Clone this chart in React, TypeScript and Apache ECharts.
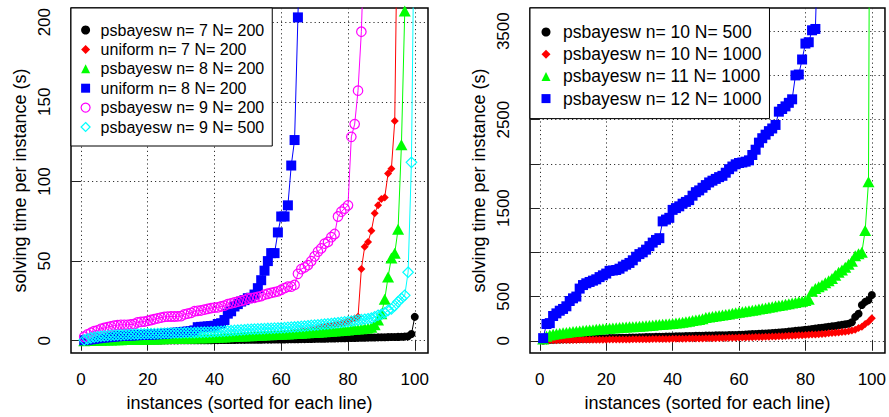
import React, { useEffect, useRef } from 'react';
import * as echarts from 'echarts';

// instance index (sorted for each line)
const instances: number[] = Array.from({ length: 100 }, (_, i) => i + 1);

// ---------- left panel ----------
const leftNames = [
  'psbayesw n= 7 N= 200',
  'uniform n= 7 N= 200',
  'psbayesw n= 8 N= 200',
  'uniform n= 8 N= 200',
  'psbayesw n= 9 N= 200',
  'psbayesw n= 9 N= 500',
];

const psb7_200 = [
  0.02, 0.03, 0.04, 0.05, 0.05, 0.06, 0.07, 0.08, 0.08, 0.09,
  0.1, 0.1, 0.11, 0.12, 0.12, 0.13, 0.14, 0.15, 0.15, 0.16,
  0.17, 0.18, 0.19, 0.2, 0.21, 0.22, 0.23, 0.24, 0.25, 0.26,
  0.27, 0.28, 0.29, 0.3, 0.31, 0.32, 0.33, 0.34, 0.36, 0.38,
  0.4, 0.42, 0.44, 0.46, 0.48, 0.5, 0.52, 0.54, 0.56, 0.58,
  0.6, 0.62, 0.64, 0.66, 0.68, 0.7, 0.72, 0.75, 0.78, 0.8,
  0.83, 0.86, 0.9, 0.93, 0.96, 1.0, 1.03, 1.06, 1.1, 1.15,
  1.2, 1.25, 1.3, 1.35, 1.4, 1.45, 1.5, 1.55, 1.6, 1.65,
  1.7, 1.75, 1.8, 1.85, 1.9, 1.95, 2.0, 2.05, 2.1, 2.15,
  2.2, 2.25, 2.3, 2.35, 2.4, 2.5, 2.6, 2.8, 4.2, 15,
];
const uni7_200 = [
  0.05, 0.1, 0.15, 0.2, 0.25, 0.3, 0.3, 0.35, 0.4, 0.4,
  0.45, 0.5, 0.5, 0.55, 0.6, 0.6, 0.65, 0.7, 0.7, 0.75,
  0.8, 0.85, 0.9, 0.95, 1.0, 1.05, 1.1, 1.15, 1.2, 1.25,
  1.3, 1.35, 1.4, 1.5, 1.6, 1.7, 1.8, 1.9, 2.0, 2.1,
  2.2, 2.3, 2.4, 2.5, 2.6, 2.7, 2.8, 2.9, 3.0, 3.1,
  3.2, 3.3, 3.4, 3.5, 3.6, 3.7, 3.8, 4.0, 4.2, 4.4,
  4.6, 4.8, 5.0, 5.3, 5.6, 5.9, 6.2, 6.5, 6.8, 7.1,
  7.5, 8.0, 8.5, 9.0, 9.5, 10, 10.5, 11, 11.5, 12,
  13, 14, 15, 45, 59, 62, 69, 80, 85, 89,
  90, 105, 108, 138, 300, 380, 520, 700, 950, 1400,
];
const psb8_200 = [
  0.05, 0.1, 0.15, 0.2, 0.3, 0.35, 0.4, 0.45, 0.5, 0.55,
  0.6, 0.65, 0.7, 0.75, 0.8, 0.85, 0.9, 0.95, 1.0, 1.05,
  1.1, 1.15, 1.2, 1.25, 1.3, 1.35, 1.4, 1.45, 1.5, 1.55,
  1.6, 1.65, 1.7, 1.75, 1.8, 1.85, 1.9, 1.95, 2.0, 2.1,
  2.2, 2.3, 2.4, 2.5, 2.6, 2.7, 2.8, 2.9, 3.0, 3.1,
  3.2, 3.3, 3.4, 3.5, 3.6, 3.7, 3.8, 3.9, 4.0, 4.1,
  4.2, 4.3, 4.4, 4.5, 4.6, 4.7, 4.8, 5.0, 5.1, 5.2,
  5.4, 5.5, 5.7, 5.8, 6.0, 6.1, 6.3, 6.4, 6.6, 6.8,
  7.0, 7.2, 7.4, 7.6, 7.8, 8.0, 8.5, 10, 13, 17,
  26, 40, 52, 55, 70, 123, 207, 330, 520, 900,
];
const uni8_200 = [
  0.3, 0.6, 0.9, 1.2, 1.5, 1.8, 2.0, 2.2, 2.4, 2.6,
  2.8, 3.0, 3.1, 3.2, 3.3, 3.4, 3.5, 3.6, 3.7, 3.8,
  3.9, 4.0, 4.1, 4.2, 4.4, 4.6, 4.8, 5.0, 5.2, 5.4,
  5.6, 5.8, 6.0, 6.5, 8.5, 8.7, 8.8, 9.0, 9.2, 9.4,
  10.5, 11, 13, 17, 18.5, 21.5, 23, 24.6, 25.5, 26.7,
  27, 29, 33, 38, 44, 50, 55, 55, 68, 78,
  78, 85, 110, 126, 203, 290, 360, 450, 520, 600,
  700, 800, 900, 1000, 1100, 1200, 1300, 1450, 1600, 1750,
  1900, 2050, 2200, 2400, 2600, 2800, 3000, 3200, 3400, 3600,
  3800, 4000, 4200, 4400, 4600, 4800, 5000, 5300, 5600, 6000,
];
const psb9_200 = [
  2.5, 4, 5, 6, 6.5, 7.5, 8, 8.5, 9, 9.5,
  9.8, 10, 10, 10, 10.2, 10.5, 11.5, 11.8, 12, 12.5,
  13, 13.5, 14, 14.5, 15, 15.1, 15.2, 15.2, 15.3, 15.5,
  16.5, 17, 17.5, 18.5, 18.8, 19, 19.5, 20, 20.5, 20.8,
  21, 21.5, 22, 23, 23.5, 24, 24.5, 25, 25.5, 26.5,
  26.8, 27, 27.5, 28, 29, 29.5, 30, 30.5, 31, 32,
  33, 34, 34, 35, 42, 45, 46, 47.5, 50, 53,
  56, 58, 61, 62, 65, 67, 78, 81, 83, 85,
  128, 136, 157, 194, 260, 350, 420, 500, 600, 700,
  800, 900, 1000, 1150, 1300, 1500, 1700, 2000, 2400, 3000,
];
const psb9_500 = [
  0.5, 1.2, 1.8, 2.2, 2.5, 2.8, 3.0, 3.2, 3.4, 3.5,
  3.6, 3.7, 3.8, 3.9, 4.0, 4.1, 4.2, 4.3, 4.35, 4.4,
  4.45, 4.5, 4.55, 4.6, 4.7, 4.75, 4.8, 4.85, 4.9, 4.95,
  5.0, 5.05, 5.1, 5.15, 5.2, 5.3, 5.35, 5.45, 5.55, 5.65,
  5.8, 5.9, 6.0, 6.2, 6.3, 6.5, 6.6, 6.8, 6.9, 7.1,
  7.2, 7.3, 7.4, 7.5, 7.6, 7.7, 7.8, 7.9, 8.0, 8.1,
  8.2, 8.35, 8.5, 8.65, 8.8, 9.0, 9.2, 9.4, 9.6, 9.8,
  10.0, 10.2, 10.4, 10.6, 10.8, 11.0, 11.3, 11.5, 11.8, 12.0,
  12.3, 12.6, 12.9, 13.2, 13.5, 13.8, 14.2, 15, 16, 16.5,
  17.5, 19, 20, 22, 24.5, 26.5, 28.5, 43, 112, 300,
];

// ---------- right panel ----------
const rightNames = [
  'psbayesw n= 10 N= 500',
  'psbayesw n= 10 N= 1000',
  'psbayesw n= 11 N= 1000',
  'psbayesw n= 12 N= 1000',
];

const psb10_500 = [
  3, 8, 10, 12, 14, 15, 16, 17, 18, 19,
  20, 21, 22, 23, 24, 25, 26, 27, 28, 29,
  30, 31, 32, 33, 34, 35, 36, 37, 38, 39,
  40, 41, 42, 43, 44, 45, 46, 47, 48, 49,
  50, 51, 52, 53, 54, 55, 56, 57, 57.5, 58,
  59, 60, 61, 62, 63, 63.5, 64, 65, 66, 67,
  69, 71, 73, 75, 77, 79, 81, 83, 85, 87,
  90, 93, 96, 100, 104, 108, 112, 116, 120, 124,
  128, 133, 138, 143, 148, 153, 158, 163, 168, 175,
  180, 186, 192, 210, 270, 305, 405, 440, 460, 517,
];
const psb10_1000 = [
  1, 3, 5, 6, 7, 8, 8.5, 9, 9.5, 10,
  10.3, 10.6, 10.9, 11.2, 11.5, 11.8, 12.1, 12.4, 12.7, 13,
  13.4, 13.8, 14.2, 14.6, 15, 15.4, 15.8, 16.2, 16.6, 17,
  17.5, 18, 18.5, 19, 19.5, 20, 20.5, 21, 21.5, 22,
  22.5, 23, 23.6, 24.2, 24.8, 25.4, 26, 26.6, 27.3, 28,
  28.7, 29.4, 30.1, 30.8, 31.5, 32.2, 33, 34, 35, 36,
  37, 38, 39, 40, 41.5, 43, 44, 45.5, 47, 48,
  49.5, 51, 52.5, 54, 56, 58, 60, 62, 63.5, 65,
  67, 70, 72, 75, 78, 81, 84, 87, 91, 95,
  98, 102, 108, 115, 125, 145, 160, 190, 215, 255,
];
const psb11_1000 = [
  20, 50, 65, 75, 80, 86, 90, 95, 100, 105,
  108, 112, 115, 118, 122, 126, 130, 133, 137, 140,
  143, 145, 148, 150, 153, 155, 158, 160, 162, 165,
  168, 171, 174, 177, 180, 183, 186, 189, 192, 195,
  200, 205, 210, 216, 222, 228, 234, 240, 250, 262,
  268, 274, 280, 286, 292, 298, 304, 310, 316, 322,
  328, 334, 340, 346, 352, 358, 364, 370, 378, 385,
  392, 399, 406, 413, 420, 427, 434, 441, 448, 456,
  470, 560, 590, 610, 630, 655, 680, 705, 740, 775,
  800, 830, 865, 900, 960, 985, 1000, 1248, 1798, 12000,
];
const psb12_1000 = [
  30, 190, 200, 280, 310, 340, 360, 390, 450, 480,
  500, 590, 630, 650, 665, 680, 695, 720, 740, 760,
  790, 795, 800, 815, 840, 860, 880, 910, 950, 980,
  1000, 1030, 1070, 1110, 1140, 1160, 1350, 1370, 1390, 1480,
  1500, 1520, 1550, 1570, 1590, 1640, 1680, 1700, 1730, 1760,
  1790, 1810, 1830, 1850, 1865, 1900, 1940, 1970, 1995, 2010,
  2016, 2025, 2040, 2100, 2160, 2240, 2290, 2330, 2370, 2400,
  2440, 2590, 2620, 2650, 2690, 2730, 3000, 3010, 3180, 3360,
  3375, 3510, 3525, 4800, 5100, 5400, 5700, 6000, 6400, 6800,
  7200, 7600, 8000, 8500, 9000, 9600, 10200, 11000, 12000, 14000,
];

const xTicks = [0, 20, 40, 60, 80, 100];
const leftYTicks = [0, 50, 100, 150, 200];
const rightYTicks = [0, 500, 1000, 1500, 2000, 2500, 3000, 3500];
const rightYLabels = [0, 500, 1500, 2500, 3500];

const FONT = '"Liberation Sans", Arial, Helvetica, sans-serif';

type Mark = { icon: string; size: number | number[]; hollow: boolean; color: string };
const leftMarks: Mark[] = [
  { icon: 'circle', size: 8, hollow: false, color: '#000000' },
  { icon: 'diamond', size: 8, hollow: false, color: '#FF0000' },
  { icon: 'triangle', size: [12, 11], hollow: false, color: '#00FF00' },
  { icon: 'rect', size: 10, hollow: false, color: '#0000FF' },
  { icon: 'circle', size: 9.5, hollow: true, color: '#FF00FF' },
  { icon: 'diamond', size: 10.5, hollow: true, color: '#00FFFF' },
];
const rightMarks: Mark[] = [
  { icon: 'circle', size: 8, hollow: false, color: '#000000' },
  { icon: 'diamond', size: 8, hollow: false, color: '#FF0000' },
  { icon: 'triangle', size: [12, 11], hollow: false, color: '#00FF00' },
  { icon: 'rect', size: 10, hollow: false, color: '#0000FF' },
];

function makeSeries(name: string, values: number[], m: Mark, idx: number) {
  return {
    type: 'line',
    name,
    xAxisIndex: idx,
    yAxisIndex: idx,
    data: instances.map((x, i) => [x, values[i]]),
    symbol: m.icon,
    symbolSize: m.size,
    showAllSymbol: true,
    clip: true,
    silent: true,
    lineStyle: { color: m.color, width: 1 },
    itemStyle: m.hollow
      ? { color: 'rgba(0,0,0,0)', borderColor: m.color, borderWidth: 1.2 }
      : { color: m.color, borderWidth: 0 },
    emphasis: { disabled: true },
  };
}

function legendData(names: string[], marks: Mark[]) {
  return names.map((n, i) => ({
    name: n,
    icon: marks[i].icon,
    itemStyle: marks[i].hollow
      ? { color: 'rgba(0,0,0,0)', borderColor: marks[i].color, borderWidth: 1.2 }
      : { color: marks[i].color, borderWidth: 0 },
  }));
}

const axisCommonX = (gridIndex: number) => ({
  type: 'value',
  gridIndex,
  min: -2.96,
  max: 103.96,
  name: 'instances (sorted for each line)',
  nameLocation: 'middle',
  nameGap: 41,
  nameTextStyle: { fontSize: 18, color: '#000', fontFamily: FONT },
  axisLine: { show: false },
  axisTick: { show: true, inside: false, length: 10, customValues: xTicks, lineStyle: { color: '#222', width: 1 } },
  axisLabel: { customValues: xTicks, fontSize: 17, color: '#000', margin: 18, fontFamily: FONT, formatter: (v: number) => String(v) },
  splitLine: { show: true, lineStyle: { color: '#333', type: [1.2, 3], width: 1 } },
});

export default function App() {
  const ref = useRef<HTMLDivElement>(null);
  useEffect(() => {
    document.body.style.margin = '0';
    const chart = echarts.init(ref.current!, undefined, { renderer: 'svg' });
    const yCommon = {
      type: 'value',
      name: 'solving time per instance (s)',
      nameLocation: 'middle',
      nameGap: 42,
      nameRotate: 90,
      nameTextStyle: { fontSize: 18, color: '#000', fontFamily: FONT },
      axisLine: { show: false },
      splitLine: { show: true, lineStyle: { color: '#333', type: [1.2, 3], width: 1 } },
    };
    chart.setOption({
      animation: false,
      textStyle: { fontFamily: FONT },
      grid: [
        { left: 71, top: 8, width: 357, height: 347, show: true, borderColor: '#000', borderWidth: 1.5, containLabel: false },
        { left: 530, top: 8, width: 356, height: 347, show: true, borderColor: '#000', borderWidth: 1.5, containLabel: false },
      ],
      xAxis: [axisCommonX(0), axisCommonX(1)],
      yAxis: [
        {
          ...yCommon,
          gridIndex: 0,
          min: -7.7,
          max: 208.9,
          axisTick: { show: true, inside: false, length: 10, customValues: leftYTicks, lineStyle: { color: '#222', width: 1 } },
          axisLabel: { customValues: leftYTicks, rotate: 90, fontSize: 17, color: '#000', margin: 18, fontFamily: FONT, formatter: (v: number) => String(v) },
        },
        {
          ...yCommon,
          gridIndex: 1,
          min: -138,
          max: 3762,
          splitNumber: 8,
          axisTick: { show: true, inside: false, length: 10, customValues: rightYTicks, lineStyle: { color: '#222', width: 1 } },
          axisLabel: { customValues: rightYLabels, rotate: 90, fontSize: 17, color: '#000', margin: 18, fontFamily: FONT, formatter: (v: number) => String(v) },
        },
      ],
      legend: [
        {
          orient: 'vertical',
          left: 71,
          top: 8,
          padding: [14, 8, 11, 9.5],
          itemWidth: 9,
          itemHeight: 9,
          itemGap: 3.4,
          backgroundColor: '#fff',
          borderColor: '#000',
          borderWidth: 1,
          selectedMode: false,
          textStyle: { fontSize: 16, lineHeight: 16, color: '#000', fontFamily: FONT, padding: [0, 0, 0, 5.5] },
          data: legendData(leftNames, leftMarks),
        },
        {
          orient: 'vertical',
          left: 530,
          top: 8,
          padding: [15, 8, 11, 11.5],
          itemWidth: 9,
          itemHeight: 9,
          itemGap: 4.2,
          backgroundColor: '#fff',
          borderColor: '#000',
          borderWidth: 1,
          selectedMode: false,
          textStyle: { fontSize: 17.5, lineHeight: 17.5, color: '#000', fontFamily: FONT, padding: [0, 0, 0, 7.5] },
          data: legendData(rightNames, rightMarks),
        },
      ],
      series: [
        makeSeries(leftNames[0], psb7_200, leftMarks[0], 0),
        makeSeries(leftNames[1], uni7_200, leftMarks[1], 0),
        makeSeries(leftNames[2], psb8_200, leftMarks[2], 0),
        makeSeries(leftNames[3], uni8_200, leftMarks[3], 0),
        makeSeries(leftNames[4], psb9_200, leftMarks[4], 0),
        makeSeries(leftNames[5], psb9_500, leftMarks[5], 0),
        makeSeries(rightNames[0], psb10_500, rightMarks[0], 1),
        makeSeries(rightNames[1], psb10_1000, rightMarks[1], 1),
        makeSeries(rightNames[2], psb11_1000, rightMarks[2], 1),
        makeSeries(rightNames[3], psb12_1000, rightMarks[3], 1),
      ],
    });
    return () => chart.dispose();
  }, []);
  return <div ref={ref} style={{ width: 889, height: 417 }} />;
}
